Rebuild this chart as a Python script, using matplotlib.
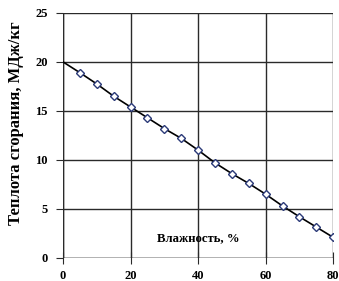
import matplotlib

matplotlib.use("Agg")
import matplotlib.pyplot as plt

# moisture, % and heat of combustion, MJ/kg
moisture = [0, 5, 10, 15, 20, 25, 30, 35, 40, 45, 50, 55, 60, 65, 70, 75, 80]
heat = [20.0, 18.9, 17.75, 16.5, 15.4, 14.3, 13.2, 12.2, 11.0, 9.7, 8.6,
        7.6, 6.5, 5.3, 4.2, 3.15, 2.1]
x_ticks = [0, 20, 40, 60, 80]
y_ticks = [0, 5, 10, 15, 20, 25]

plt.rcParams["font.family"] = ["Liberation Serif", "DejaVu Serif"]
plt.rcParams["font.weight"] = "bold"

fig = plt.figure(figsize=(3.39, 2.81), dpi=100)
ax = fig.add_axes([0.186, 0.082, 0.797, 0.872])

ax.plot(moisture, heat, color="black", lw=1.2, zorder=3)
ax.plot(moisture[1:], heat[1:], ls="none", marker="D", ms=4.5,
        mfc="white", mec="#2b3a78", mew=1.0, zorder=4)

ax.set_xlim(0, 80)
ax.set_ylim(0, 25)
ax.set_xticks(x_ticks)
ax.set_yticks(y_ticks)
ax.grid(True, color="#2a2a2a", lw=1.0)
ax.set_axisbelow(True)
for side in ax.spines.values():
    side.set_visible(False)
ax.axhline(0, color="#2a2a2a", lw=1.0, zorder=2)
ax.axvline(0, color="#2a2a2a", lw=1.0, zorder=2)
ax.tick_params(axis="x", direction="inout", length=8, pad=4.5,
               labelsize=9, color="#2a2a2a")
ax.tick_params(axis="y", direction="out", length=5, pad=6,
               labelsize=9, color="#2a2a2a")
for lbl in ax.get_xticklabels() + ax.get_yticklabels():
    lbl.set_fontweight("bold")

ax.text(0.5, 0.055, "Влажность, %", transform=ax.transAxes, ha="center",
        va="bottom", fontsize=9.2, fontweight="bold")
ax.set_ylabel("Теплота сгорания, МДж/кг", fontsize=12, fontweight="bold")
ax.yaxis.set_label_coords(-0.145, 0.55)

fig.savefig("out.png", dpi=100)
